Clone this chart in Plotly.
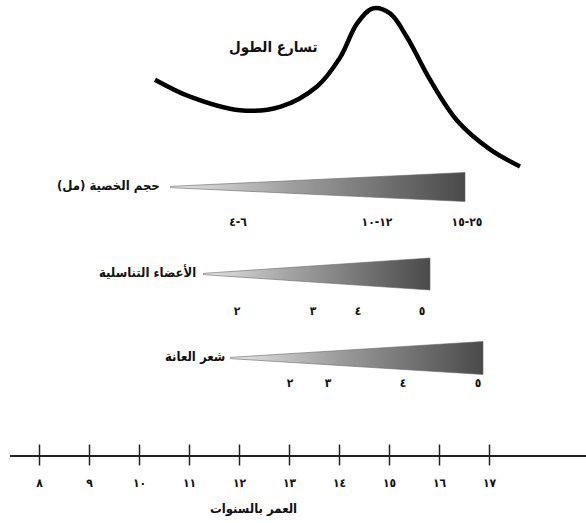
import plotly.graph_objects as go

# ---- data ----
ages_ticks = [8, 9, 10, 11, 12, 13, 14, 15, 16, 17]
tick_labels = ["٨", "٩", "١٠", "١١", "١٢", "١٣", "١٤", "١٥", "١٦", "١٧"]

# height velocity curve (age, cm/year)
growth_age = [10.31, 11.01, 12.01, 12.81, 13.55, 14.01, 14.35, 14.67, 15.01, 15.35, 15.81, 16.35, 17.01, 17.61]
growth_vel = [5.9, 4.9, 4.1, 4.3, 5.5, 7.2, 9.2, 10.1, 9.8, 8.4, 5.9, 3.5, 1.8, 0.8]

# testis volume
testis_span = [10.61, 16.51]
testis_label_ages = [11.97, 14.75, 16.55]
testis_label_text = ["٤-٦", "١٠-١٢", "١٥-٢٥"]

# genitalia stage
genital_span = [11.27, 15.81]
genital_label_ages = [11.95, 13.47, 14.37, 15.65]
genital_label_text = ["٢", "٣", "٤", "٥"]

# pubic hair stage
pubic_span = [11.81, 16.87]
pubic_label_ages = [13.01, 13.77, 15.27, 16.77]
pubic_label_text = ["٢", "٣", "٤", "٥"]

row_titles = ["حجم الخصية (مل)", "الأعضاء التناسلية", "شعر العانة"]
growth_title = "تسارع الطول"
axis_title = "العمر بالسنوات"

# ---- layout constants (pixel-like vertical positions on reversed y axis) ----
PLOT_H = 455
rows = [
    dict(span=testis_span, yc=187, half=14.5, lab_ages=testis_label_ages, lab_text=testis_label_text, lab_y=223, title_x=10.45),
    dict(span=genital_span, yc=274, half=16, lab_ages=genital_label_ages, lab_text=genital_label_text, lab_y=312, title_x=11.17),
    dict(span=pubic_span, yc=358, half=16.5, lab_ages=pubic_label_ages, lab_text=pubic_label_text, lab_y=384, title_x=11.75),
]
FONT = "DejaVu Sans Condensed, DejaVu Sans"
LRO, PDF = "\u202d", "\u202c"

fig = go.Figure()

# growth curve on its own axis
fig.add_trace(go.Scatter(
    x=growth_age, y=growth_vel, mode="lines", yaxis="y2",
    line=dict(color="black", width=4.5, shape="spline", smoothing=1.0),
    hoverinfo="skip", showlegend=False))

for i, r in enumerate(rows):
    x0, x1 = r["span"]
    fig.add_trace(go.Scatter(
        x=[x0, x1, x1, x0], y=[r["yc"] - 0.6, r["yc"] - r["half"], r["yc"] + r["half"], r["yc"] + 0.6],
        mode="lines", fill="toself",
        fillgradient=dict(type="horizontal",
                          colorscale=[[0, "#e6e6e6"], [0.4, "#a0a0a0"], [1, "#4a4a4a"]]),
        line=dict(color="#666666", width=0.6),
        hoverinfo="skip", showlegend=False))
    fig.add_trace(go.Scatter(
        x=r["lab_ages"], y=[r["lab_y"]] * len(r["lab_ages"]), mode="text",
        text=[LRO + t + PDF for t in r["lab_text"]],
        textfont=dict(family=FONT, size=12, color="#111111", weight="bold"),
        hoverinfo="skip", showlegend=False))
    fig.add_annotation(x=r["title_x"], y=r["yc"] - 2, xref="x", yref="y",
                       text=row_titles[i], showarrow=False, xanchor="right", yanchor="middle",
                       font=dict(family=FONT, size=13, color="#111111", weight="bold"))

# crossing tick marks on the age axis
fig.add_trace(go.Scatter(
    x=ages_ticks, y=[PLOT_H] * len(ages_ticks), mode="markers", cliponaxis=False,
    marker=dict(symbol="line-ns", size=15, line=dict(color="#222222", width=1.5)),
    hoverinfo="skip", showlegend=False))

fig.add_annotation(x=12.67, y=47, xref="x", yref="y", text=growth_title, showarrow=False,
                   xanchor="center", yanchor="middle",
                   font=dict(family=FONT, size=15, color="#111111", weight="bold"))
fig.add_annotation(x=12.27, y=-53 / PLOT_H, xref="x", yref="paper", text=axis_title, showarrow=False,
                   xanchor="center", yanchor="middle",
                   font=dict(family=FONT, size=13, color="#111111", weight="bold"))

fig.update_layout(
    width=586, height=523,
    margin=dict(l=10, r=0, t=0, b=68),
    paper_bgcolor="white", plot_bgcolor="white",
    showlegend=False,
    xaxis=dict(range=[7.41, 18.93], showgrid=False, zeroline=False, automargin=False,
               showline=True, linecolor="#222222", linewidth=1.5,
               tickvals=ages_ticks, ticktext=tick_labels, ticks="",
               ticklabelstandoff=16,
               tickfont=dict(family=FONT, size=12, color="#111111", weight="bold")),
    yaxis=dict(range=[PLOT_H, 0], visible=False, showgrid=False, zeroline=False),
    yaxis2=dict(range=[-16.18, 10.59], overlaying="y", visible=False,
                showgrid=False, zeroline=False),
)

fig.write_html("out.html", config={"displayModeBar": False},
               post_script="document.body.style.margin='0';")
